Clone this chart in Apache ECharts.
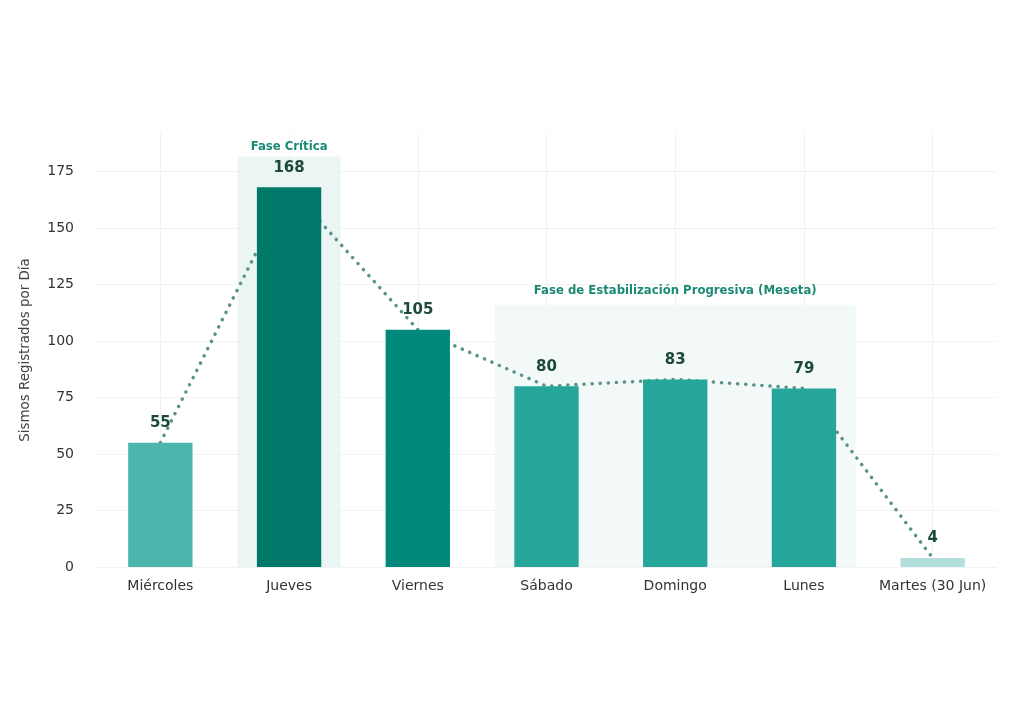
<!DOCTYPE html>
<html>
<head>
<meta charset="utf-8">
<script src="https://cdn.jsdelivr.net/npm/echarts@6/dist/echarts.min.js"></script>
<style>
  html, body { margin: 0; padding: 0; background: #fff; }
  #chart { width: 1024px; height: 727px; }
</style>
</head>
<body>
<div id="chart"></div>
<script>
const days = ['Miércoles', 'Jueves', 'Viernes', 'Sábado', 'Domingo', 'Lunes', 'Martes (30 Jun)']
const quakes = [55, 168, 105, 80, 83, 79, 4]
const barColors = ['#4db6ac', '#00796b', '#00897b', '#26a69a', '#26a69a', '#26a69a', '#b2dfdb']
const yTicks = [0, 25, 50, 75, 100, 125, 150, 175]

// phase bands: [first day index, last day index, top value, title]
const phases = [
  [1, 1, 181.5, 'Fase Crítica'],
  [3, 5, 116, 'Fase de Estabilización Progresiva (Meseta)'],
]
const phaseFill = ['#e8f3f1', '#f1f7f7']
const phaseTitleGap = [10, 14]

const font = 'DejaVu Sans'
const chart = echarts.init(document.getElementById('chart'), null, { renderer: 'canvas' })

const option = {
  backgroundColor: '#fff',
  textStyle: { fontFamily: font },
  grid: { top: 133, bottom: 160, left: 96, right: 27 },
  xAxis: {
    type: 'category',
    data: days,
    axisLine: { show: false },
    axisTick: { show: false },
    splitLine: { show: false },
    axisLabel: { color: '#333', fontSize: 14, margin: 12, interval: 0, fontFamily: font },
  },
  yAxis: {
    type: 'value',
    min: 0,
    max: 192,
    interval: 25,
    name: 'Sismos Registrados por Día',
    nameLocation: 'middle',
    nameGap: 64,
    nameTextStyle: { color: '#444', fontSize: 13.4, fontFamily: font },
    axisLine: { show: false },
    axisTick: { show: false },
    splitLine: { show: false },
    axisLabel: {
      color: '#333',
      fontSize: 14,
      margin: 22,
      fontFamily: font,
      formatter: (v) => (v % 25 === 0 ? v : ''),
    },
  },
  series: [
    {
      // grid lines
      type: 'line',
      data: [],
      silent: true,
      z: 0,
      markLine: {
        silent: true,
        z: 0,
        symbol: 'none',
        label: { show: false },
        lineStyle: { color: '#f2f2f2', width: 1, type: 'solid' },
        data: [
          ...days.map((d) => ({ xAxis: d })),
          ...yTicks.map((v) => ({ yAxis: v })),
        ],
      },
    },
    {
      type: 'custom',
      z: 1,
      silent: true,
      data: phases.map((p) => [p[0], p[1], p[2]]),
      encode: { x: [0, 1], y: 2 },
      renderItem: (params, api) => {
        const band = api.size([1, 0])[0]
        const tl = api.coord([api.value(0), api.value(2)])
        const br = api.coord([api.value(1), 0])
        const x0 = tl[0] - band * 0.4
        const x1 = br[0] + band * 0.4
        const i = params.dataIndex
        return {
          type: 'group',
          children: [
            {
              type: 'rect',
              shape: { x: x0, y: tl[1], width: x1 - x0, height: br[1] - tl[1] },
              style: { fill: phaseFill[i], opacity: 0.85 },
            },
            {
              type: 'text',
              x: (x0 + x1) / 2,
              y: tl[1] - phaseTitleGap[i],
              style: {
                text: phases[i][3],
                fill: '#1b8a75',
                font: 'bold 11.7px "DejaVu Sans"',
                textAlign: 'center',
                textVerticalAlign: 'middle',
              },
            },
          ],
        }
      },
    },
    {
      type: 'line',
      data: quakes,
      z: 2,
      symbol: 'none',
      silent: true,
      lineStyle: { color: '#5a9384', width: 3.5, type: [0.1, 8], cap: 'round' },
    },
    {
      type: 'bar',
      z: 3,
      barWidth: '50%',
      data: quakes.map((v, i) => ({ value: v, itemStyle: { color: barColors[i] } })),
      label: {
        show: true,
        position: 'top',
        distance: 12,
        color: '#1b4a3d',
        fontSize: 15,
        fontWeight: 'bold',
        fontFamily: font,
      },
    },
  ],
}
chart.setOption(option)
</script>
</body>
</html>
